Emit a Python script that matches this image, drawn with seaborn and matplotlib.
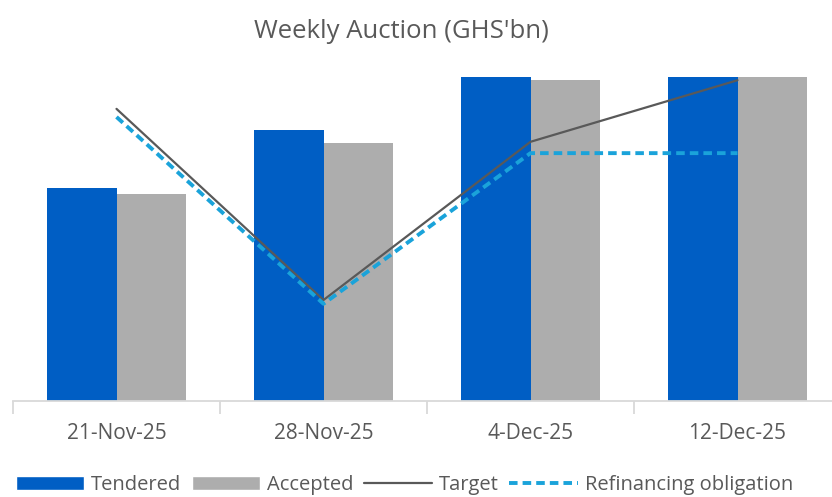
import numpy as np
import pandas as pd
import matplotlib
matplotlib.use("Agg")
import matplotlib.pyplot as plt
from matplotlib.patches import Patch
from matplotlib.lines import Line2D
import seaborn as sns

# Datos (GHS bn, aproximados)
fechas = ["21-Nov-25", "28-Nov-25", "4-Dec-25", "12-Dec-25"]
tendered = [3.94, 5.02, 6.30, 6.50]
accepted = [3.83, 4.78, 5.94, 6.10]
target = [5.41, 1.87, 4.80, 5.94]
refinanciamiento = [5.26, 1.80, 4.59, 4.59]

C_TEND = "#005EC4"
C_ACC = "#ADADAD"
C_TARGET = "#595959"
C_REFI = "#1AA3DA"
C_TEXT = "#595959"

sns.set_style("white")
plt.rcParams["font.family"] = ["Open Sans", "DejaVu Sans"]

df = pd.DataFrame({
    "fecha": fechas * 2,
    "valor": tendered + accepted,
    "serie": ["Tendered"] * 4 + ["Accepted"] * 4,
})

fig = plt.figure(figsize=(8.32, 4.97), dpi=100)
ax = fig.add_axes([13 / 832, 1 - 401 / 497, 828 / 832, (401 - 77) / 497])

sns.barplot(data=df, x="fecha", y="valor", hue="serie",
            palette={"Tendered": C_TEND, "Accepted": C_ACC},
            width=0.667, saturation=1, legend=False, linewidth=0, ax=ax)

pos = np.arange(len(fechas))
ax.plot(pos, target, color=C_TARGET, lw=1.6, zorder=3)
ax.plot(pos, refinanciamiento, color=C_REFI, lw=2.8, ls=(0, (2.2, 1.3)), zorder=3)

ax.set_xlim(-0.5, 3.5)
ax.set_ylim(0, 6.0)
ax.set_xlabel("")
ax.set_ylabel("")
ax.set_yticks([])
for s in ["top", "right", "left"]:
    ax.spines[s].set_visible(False)
ax.spines["bottom"].set_color("#D9D9D9")
ax.spines["bottom"].set_linewidth(1.3)

ax.set_xticks(pos)
ax.set_xticklabels(fechas, fontsize=15, color=C_TEXT)
ax.tick_params(axis="x", length=0, pad=16)
ax.set_xticks(np.arange(-0.5, 3.6, 1), minor=True)
ax.tick_params(axis="x", which="minor", length=9, color="#D9D9D9", width=1.3, direction="out")
ax.xaxis.set_ticks_position("bottom")

fig.text(0.482, 0.937, "Weekly Auction (GHS'bn)", ha="center", va="center",
         fontsize=18.5, color=C_TEXT)

handles = [
    Patch(facecolor=C_TEND, label="Tendered"),
    Patch(facecolor=C_ACC, label="Accepted"),
    Line2D([], [], color=C_TARGET, lw=1.6, label="Target"),
    Line2D([], [], color=C_REFI, lw=2.8, ls=(0, (2.2, 1.3)), label="Refinancing obligation"),
]
fig.legend(handles=handles, loc="center", bbox_to_anchor=(0.486, 0.024), ncol=4,
           frameon=False, fontsize=14.5, labelcolor=C_TEXT, handlelength=3.4,
           handleheight=0.7, handletextpad=0.35, columnspacing=0.5)

fig.savefig("out.png", dpi=100)
